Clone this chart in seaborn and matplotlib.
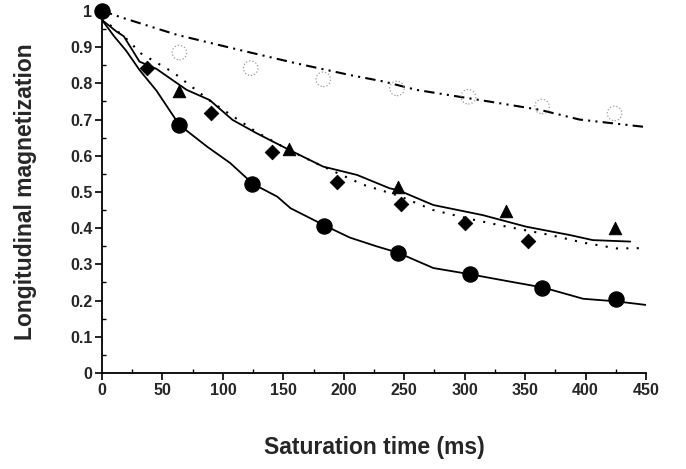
import numpy as np
import pandas as pd
import matplotlib
matplotlib.use("Agg")
import matplotlib.pyplot as plt
import seaborn as sns

# ---- data ----
circ_t = [0, 64, 124, 184, 245, 304, 364, 425]
circ_y = [1.0, 0.685, 0.521, 0.406, 0.332, 0.273, 0.236, 0.204]

tri_t = [64, 155, 245, 334, 424]
tri_y = [0.78, 0.618, 0.515, 0.447, 0.401]

dia_t = [37, 90, 141, 194, 247, 300, 352]
dia_y = [0.842, 0.717, 0.611, 0.528, 0.466, 0.413, 0.365]

open_t = [64, 123, 183, 244, 303, 364, 424]
open_y = [0.885, 0.842, 0.811, 0.786, 0.763, 0.736, 0.717]

lower_t = [0, 10, 20, 31, 45, 64, 87, 106, 125, 145, 156, 185, 205, 227, 245, 274, 304, 335, 365, 398, 425, 450]
lower_y = [0.975, 0.93, 0.89, 0.837, 0.78, 0.685, 0.625, 0.58, 0.522, 0.487, 0.455, 0.406, 0.374, 0.35, 0.332, 0.29, 0.273, 0.254, 0.236, 0.205, 0.198, 0.188]

upper_t = [0, 12, 18, 31, 45, 70, 89, 108, 128, 155, 183, 211, 238, 245, 274, 315, 351, 387, 406, 437]
upper_y = [0.975, 0.943, 0.93, 0.86, 0.84, 0.782, 0.754, 0.699, 0.662, 0.616, 0.57, 0.547, 0.51, 0.505, 0.464, 0.436, 0.404, 0.381, 0.367, 0.363]

dot_t = [0, 23, 31, 59, 90, 128, 155, 183, 216, 245, 274, 305, 335, 371, 398, 426, 450]
dot_y = [0.98, 0.915, 0.885, 0.83, 0.75, 0.665, 0.615, 0.57, 0.52, 0.49, 0.45, 0.425, 0.404, 0.381, 0.36, 0.344, 0.345]

dd_t = [0, 18, 62, 114, 161, 205, 233, 260, 303, 329, 362, 395, 448]
dd_y = [1.0, 0.98, 0.934, 0.892, 0.855, 0.823, 0.805, 0.782, 0.759, 0.745, 0.727, 0.70, 0.68]

x_ticks = [0, 50, 100, 150, 200, 250, 300, 350, 400, 450]
y_ticks = [0, 0.1, 0.2, 0.3, 0.4, 0.5, 0.6, 0.7, 0.8, 0.9, 1]
y_ticklabels = ["0", "0.1", "0.2", "0.3", "0.4", "0.5", "0.6", "0.7", "0.8", "0.9", "1"]

# ---- plotting ----
sns.set_style("ticks")
plt.rcParams["font.family"] = ["Liberation Sans", "DejaVu Sans"]
plt.rcParams["font.weight"] = "bold"

fig = plt.figure(figsize=(6.86, 4.69), dpi=100)
ax = fig.add_axes([0.1487, 0.2047, 0.793, 0.772])

lw = 1.3
sns.lineplot(x=lower_t, y=lower_y, ax=ax, color="black", linewidth=lw, estimator=None, sort=False)
sns.lineplot(x=upper_t, y=upper_y, ax=ax, color="black", linewidth=lw, estimator=None, sort=False)
sns.lineplot(x=dot_t, y=dot_y, ax=ax, color="black", linewidth=1.5, estimator=None, sort=False,
             linestyle=(0, (1, 4)))
sns.lineplot(x=dd_t, y=dd_y, ax=ax, color="black", linewidth=1.5, estimator=None, sort=False,
             linestyle=(0, (5, 2.5, 1, 2.5, 1, 2.5)))

sns.scatterplot(x=open_t, y=open_y, ax=ax, marker="o", s=110, facecolor="none",
                edgecolor="#9a9a9a", linewidth=0.9, linestyle=":", zorder=5)
sns.scatterplot(x=dia_t, y=dia_y, ax=ax, marker="D", s=55, color="black", edgecolor="black", zorder=5)
sns.scatterplot(x=tri_t, y=tri_y, ax=ax, marker="^", s=80, color="black", edgecolor="black", zorder=5)
sns.scatterplot(x=circ_t, y=circ_y, ax=ax, marker="o", s=120, color="black", edgecolor="black", zorder=6,
                clip_on=False)

ax.set_xlim(0, 450)
ax.set_ylim(0, 1)
ax.set_xticks(x_ticks)
ax.set_yticks(y_ticks)
ax.set_yticklabels(y_ticklabels)
ax.set_xticks(np.arange(25, 450, 50), minor=True)
ax.set_yticks(np.arange(0.05, 1.0, 0.1), minor=True)
ax.tick_params(which="major", direction="out", length=5, width=1.2, labelsize=11.5, pad=2, color="black")
ax.tick_params(which="minor", direction="in", length=3, width=1, color="black")
for lab in ax.get_xticklabels() + ax.get_yticklabels():
    lab.set_fontweight("bold")

sns.despine(ax=ax)
for s in ["left", "bottom"]:
    ax.spines[s].set_linewidth(1.3)
    ax.spines[s].set_color("black")

ax.set_xlabel("Saturation time (ms)", fontsize=16.5, fontweight="bold")
ax.set_ylabel("Longitudinal magnetization", fontsize=16.5, fontweight="bold")
ax.xaxis.set_label_coords(0.5, -0.207)
ax.yaxis.set_label_coords(-0.1415, 0.5)
ax.xaxis.label.set_va("center")
ax.yaxis.label.set_va("center")

fig.savefig("out.png", dpi=100)
